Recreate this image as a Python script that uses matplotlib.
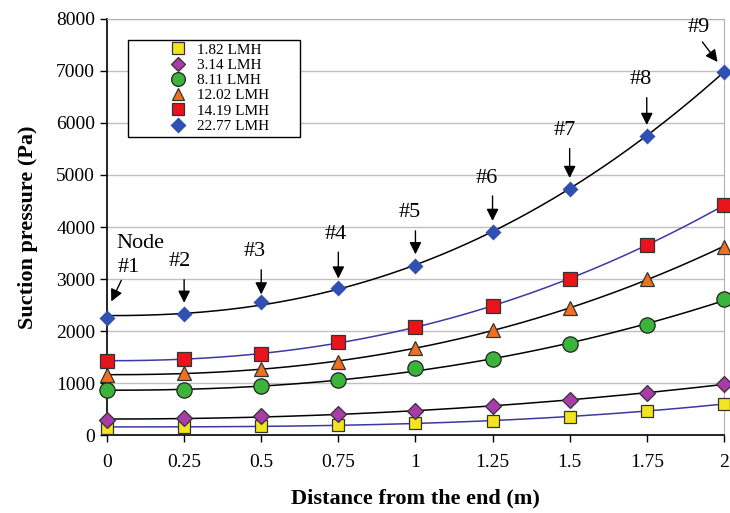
import numpy as np
import matplotlib
matplotlib.use("Agg")
import matplotlib.pyplot as plt
from matplotlib.patches import Rectangle

plt.rcParams['font.family'] = ['Liberation Serif', 'DejaVu Serif']

distance = [0, 0.25, 0.5, 0.75, 1.0, 1.25, 1.5, 1.75, 2.0]
series_labels = ["1.82 LMH", "3.14 LMH", "8.11 LMH", "12.02 LMH", "14.19 LMH", "22.77 LMH"]
p_1_82 = [140, 150, 180, 200, 230, 270, 350, 460, 600]
p_3_14 = [290, 320, 360, 410, 460, 560, 670, 810, 980]
p_8_11 = [860, 860, 940, 1060, 1280, 1460, 1750, 2110, 2610]
p_12_02 = [1160, 1190, 1270, 1400, 1680, 2010, 2440, 3000, 3620]
p_14_19 = [1420, 1470, 1560, 1780, 2070, 2490, 3000, 3650, 4420]
p_22_77 = [2250, 2330, 2560, 2830, 3250, 3910, 4730, 5750, 6990]
node_labels = ["Node\n#1", "#2", "#3", "#4", "#5", "#6", "#7", "#8", "#9"]

series = [p_1_82, p_3_14, p_8_11, p_12_02, p_14_19, p_22_77]
markers = ['s', 'D', 'o', '^', 's', 'D']
mcolors = ['#f2e41e', '#a83ca8', '#3cb43c', '#f07020', '#e8141c', '#3050b4']
msizes = [9, 8, 11, 10, 9.5, 8.5]
lcolors = ['#3a3aa0', 'black', 'black', 'black', '#3a3aa0', 'black']
medge = ['#333333', '#333333', '#222222', '#333333', '#333333', 'none']


def power_fit(xv, yv):
    """Least-squares fit of y = a + b*x**n (flat start), grid search over n."""
    best = None
    for n in np.linspace(1.0, 5.0, 400):
        A = np.column_stack([np.ones_like(xv), xv ** n])
        sol, *_ = np.linalg.lstsq(A, yv, rcond=None)
        err = np.sum((A @ sol - yv) ** 2)
        if best is None or err < best[0]:
            best = (err, sol[0], sol[1], n)
    _, a, b, n = best
    return lambda t: a + b * np.power(t, n)


fig = plt.figure(figsize=(7.3, 5.13), dpi=100)
ax = fig.add_axes([0.1466, 0.152, 0.845, 0.811])

x = np.array(distance, dtype=float)
xs = np.linspace(0, 2, 200)
fits = []
for vals, m, mc, ms, lc, me, lab in zip(series, markers, mcolors, msizes, lcolors, medge, series_labels):
    y = np.array(vals, dtype=float)
    f = power_fit(x, y)
    fits.append(f)
    ax.plot(xs, f(xs), color=lc, lw=1.1, zorder=2)
    ax.plot(x, y, linestyle='none', marker=m, markersize=ms, markerfacecolor=mc,
            markeredgecolor=me, markeredgewidth=0.9, label=lab, zorder=3, clip_on=False)

# node annotations
top_fit = fits[-1]
text_pos = [(0.05, 3430), (0.237, 3330), (0.48, 3520), (0.74, 3860), (0.98, 4270),
            (1.23, 4940), (1.485, 5850), (1.73, 6830), (1.92, 7830)]
aprops = dict(arrowstyle='-|>', color='black', lw=1.0, mutation_scale=18)
for i, (lab, (tx, ty)) in enumerate(zip(node_labels, text_pos)):
    if i == 0:
        ax.text(0.03, 3690, "Node", fontsize=16, ha='left', va='center')
        ax.text(0.035, 3230, "#1", fontsize=16, ha='left', va='center')
        ax.annotate("", xy=(0.01, 2520), xytext=(0.05, 3020), arrowprops=aprops)
    elif i == 8:
        ax.text(tx, ty, lab, fontsize=16, ha='center', va='center')
        ax.annotate("", xy=(1.985, 7130), xytext=(1.925, 7600), arrowprops=aprops)
    else:
        xi = distance[i]
        ax.text(tx, ty, lab, fontsize=16, ha='center', va='center')
        ycurve = float(top_fit(xi))
        ax.annotate("", xy=(xi, ycurve + 150), xytext=(xi, ty - 290), arrowprops=aprops)

ax.set_xlim(0, 2)
ax.set_ylim(0, 8000)
ax.set_xticks([0, 0.25, 0.5, 0.75, 1, 1.25, 1.5, 1.75, 2])
ax.set_xticklabels(["0", "0.25", "0.5", "0.75", "1", "1.25", "1.5", "1.75", "2"])
ax.set_yticks(range(0, 8001, 1000))
ax.tick_params(axis='both', labelsize=14, direction='out', length=5, width=1)
ax.tick_params(axis='x', pad=9)
ax.yaxis.grid(True, color='#c0c0c0', lw=1)
ax.set_axisbelow(True)
for s in ['top', 'right']:
    ax.spines[s].set_color('#b0b0b0')
for s in ['left', 'bottom']:
    ax.spines[s].set_color('black')
    ax.spines[s].set_linewidth(1.2)

ax.set_xlabel("Distance from the end (m)", fontsize=16, fontweight='bold', labelpad=12)
ax.set_ylabel("Suction pressure (Pa)", fontsize=16, fontweight='bold', labelpad=13)

# legend box drawn separately to match proportions
ax.add_patch(Rectangle((0.034, 0.716), 0.279, 0.234, transform=ax.transAxes,
                       facecolor='white', edgecolor='black', lw=1.0, zorder=4))
leg = ax.legend(loc='upper left', bbox_to_anchor=(0.102, 0.942), fontsize=11,
                frameon=False, handletextpad=0.75, labelspacing=0.1, borderpad=0,
                borderaxespad=0, handlelength=1.0, markerscale=0.9)
leg.set_zorder(5)

fig.savefig("out.png", dpi=100)
